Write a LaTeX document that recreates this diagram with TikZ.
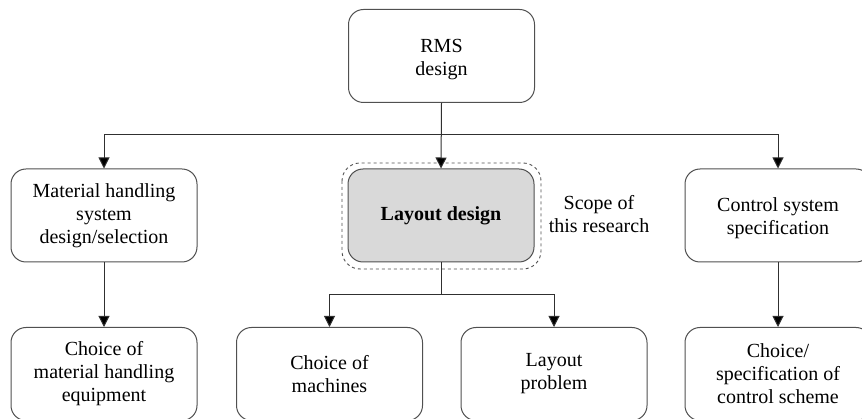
\documentclass[tikz,border=0pt]{standalone}
\usepackage{fontspec}
\setmainfont{Liberation Serif}
\usetikzlibrary{arrows.meta}
\definecolor{boxline}{HTML}{505050}
\definecolor{conn}{HTML}{303030}
\definecolor{boxfill}{HTML}{D9D9D9}
\begin{document}
\begin{tikzpicture}[x=1pt,y=-1pt,
  box/.style={draw=boxline,line width=1pt,rounded corners=15pt,minimum width=186pt,minimum height=93pt,inner sep=0pt,align=center,font=\fontsize{20}{23}\selectfont},
  plain/.style={align=center,font=\fontsize{20}{23}\selectfont,inner sep=0pt},
  conn/.style={draw=conn,line width=1pt},
  arr/.style={conn,-{Triangle[width=11pt,length=11pt,fill=black]}}]
\useasboundingbox (0,0) rectangle (862,419);
\node[box] (rms) at (441.5,56) {};
\node[plain] (rmst) at (441.5,59.5) {RMS\\design};
\node[box,fill=boxfill,font=\fontsize{20}{23}\selectfont\bfseries] (layout) at (441,215.5) {Layout design};
\draw[boxline,dashed,line width=0.9pt,rounded corners=18pt] (342,163) rectangle (541,269);
\node[plain] (scope) at (599,214) {Scope of\\this research};
\node[box] (mat) at (104,215.5) {Material handling\\system\\design/selection};
\node[box] (ctrl) at (778,215.5) {};
\node[plain] (ctrlt) at (778,218.5) {Control system\\specification};
\node[box] (matc) at (104,374) {Choice of\\material handling\\equipment};
\node[box] (mach) at (329.5,374) {Choice of\\machines};
\node[box] (lprob) at (554,374) {Layout\\problem};
\node[box] (ctrlc) at (778,374) {Choice/\\specification of\\control scheme};
\coordinate (j1) at (441.5,135);
\coordinate (j2) at (441,295);
\draw[arr] (rms.south) -- (layout.north);
\draw[arr] (j1) -| (mat.north);
\draw[arr] (j1) -| (ctrl.north);
\draw[arr] (mat.south) -- (matc.north);
\draw[arr] (ctrl.south) -- (ctrlc.north);
\draw[conn] (layout.south) -- (j2);
\draw[arr] (j2) -| (mach.north);
\draw[arr] (j2) -| (lprob.north);
\end{tikzpicture}
\end{document}
